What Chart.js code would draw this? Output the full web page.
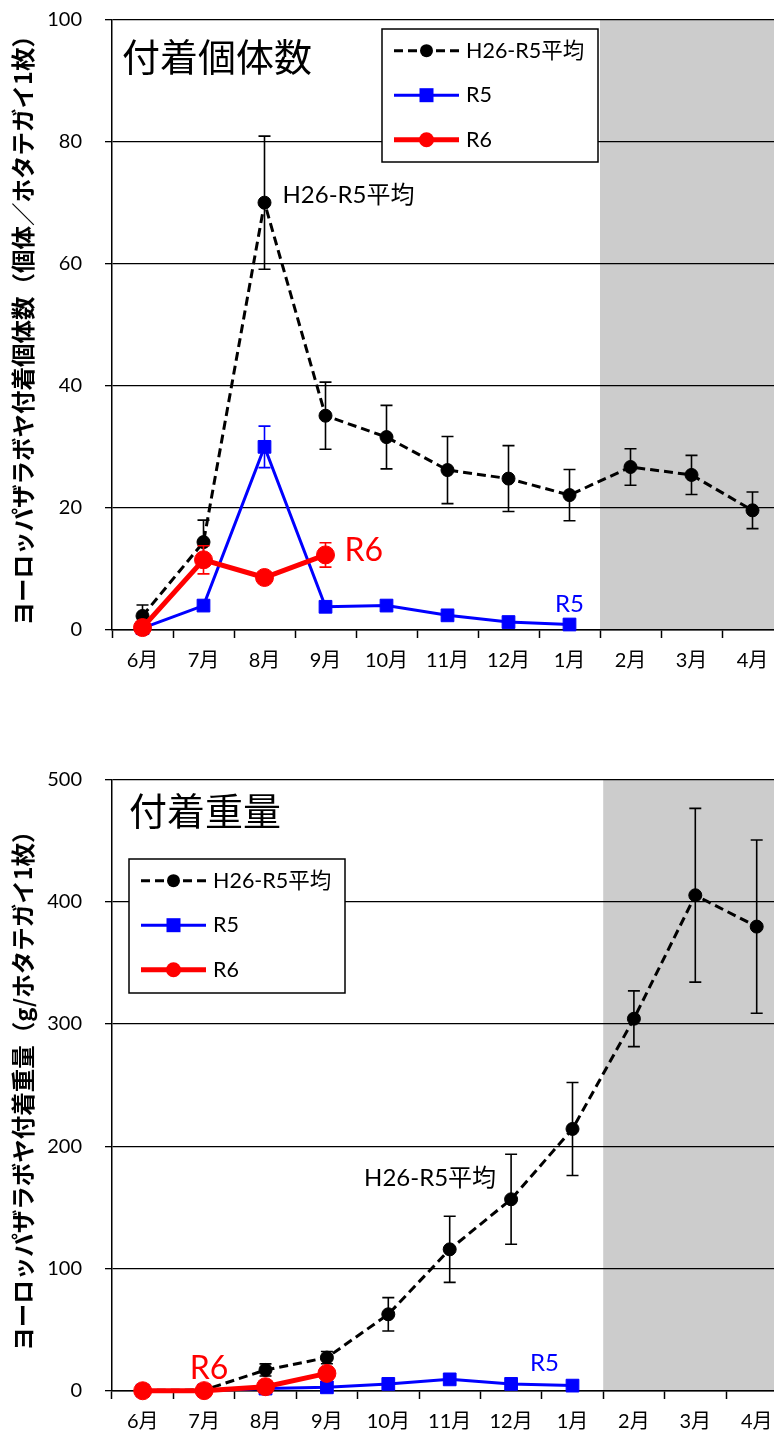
<!DOCTYPE html>
<html lang="ja">
<head>
<meta charset="utf-8">
<title>ヨーロッパザラボヤ付着状況</title>
<script src="https://cdn.jsdelivr.net/npm/chart.js@4.4.1/dist/chart.umd.min.js"></script>
<style>
  html, body { margin: 0; padding: 0; background: #fff; overflow: hidden; }
  #wrap { position: relative; width: 774px; height: 1436px; overflow: hidden; }
  #wrap canvas { position: absolute; left: 0; }
  #countChart { top: 0; }
  #weightChart { top: 760px; }
</style>
</head>
<body>
<div id="wrap">
  <canvas id="countChart" width="800" height="700"></canvas>
  <canvas id="weightChart" width="800" height="676"></canvas>
</div>
<script>
const months = ['6月', '7月', '8月', '9月', '10月', '11月', '12月', '1月', '2月', '3月', '4月'];
const shadeFrom = '2月';

// 付着個体数（個体／ホタテガイ1枚）
const countAvg    = [2.3, 14.4, 70.0, 35.1, 31.6, 26.2, 24.8, 22.1, 26.7, 25.4, 19.6];
const countAvgErr = [1.8, 3.6, 10.9, 5.5, 5.2, 5.5, 5.4, 4.2, 3.0, 3.2, 3.0];
const countR5     = [0.3, 4.0, 30.0, 3.8, 4.0, 2.4, 1.3, 0.9, null, null, null];
const countR5Err  = [null, null, 3.4, null, null, null, null, null, null, null, null];
const countR6     = [0.4, 11.5, 8.6, 12.3, null, null, null, null, null, null, null];
const countR6Err  = [null, 2.3, null, 2.0, null, null, null, null, null, null, null];

// 付着重量（g/ホタテガイ1枚）
const weightAvg    = [0.5, 0.8, 17.2, 27.3, 62.7, 115.8, 156.7, 214.2, 304.3, 405.2, 379.6];
const weightAvgErr = [null, null, 5.0, 5.0, 13.6, 27.0, 36.8, 38.0, 22.8, 71.0, 70.8];
const weightR5     = [0.3, 0.5, 2.0, 3.0, 5.8, 9.5, 5.8, 4.4, null, null, null];
const weightR5Err  = [null, null, null, null, null, null, null, null, null, null, null];
const weightR6     = [0.2, 0.3, 3.5, 14.4, null, null, null, null, null, null, null];
const weightR6Err  = [null, null, null, null, null, null, null, null, null, null, null];

const LATIN = "Lato, 'Noto Sans CJK JP', sans-serif";
const JP = "'Noto Sans CJK JP', sans-serif";

// gray band for 2月-4月, under the grid lines
const shadePlugin = {
  id: 'shade',
  beforeDraw(chart, args, o) {
    const { ctx, chartArea: a, scales: { x } } = chart;
    const i = chart.data.labels.indexOf(o.from);
    const left = (x.getPixelForValue(i - 1) + x.getPixelForValue(i)) / 2;
    ctx.save();
    ctx.fillStyle = o.color;
    ctx.fillRect(left, a.top, a.right + 20 - left, a.bottom - a.top);
    ctx.restore();
  }
};

// symmetric error bars, drawn just before each series
const errorBarPlugin = {
  id: 'errorBars',
  beforeDatasetDraw(chart, args) {
    const ds = chart.data.datasets[args.index];
    if (!ds.errorBars) return;
    const { ctx } = chart;
    const y = chart.scales.y;
    ctx.save();
    ctx.strokeStyle = ds.errorColor;
    ctx.lineWidth = 1.6;
    args.meta.data.forEach((pt, i) => {
      const v = ds.data[i], e = ds.errorBars[i];
      if (v == null || e == null) return;
      const top = y.getPixelForValue(v + e);
      const bot = y.getPixelForValue(v - e);
      ctx.beginPath();
      ctx.moveTo(pt.x, top); ctx.lineTo(pt.x, bot);
      ctx.moveTo(pt.x - 6, top); ctx.lineTo(pt.x + 6, top);
      ctx.moveTo(pt.x - 6, bot); ctx.lineTo(pt.x + 6, bot);
      ctx.stroke();
    });
    ctx.restore();
  }
};

function marker(ctx, style, x, y, r, color) {
  ctx.fillStyle = color;
  ctx.beginPath();
  if (style === 'rect') {
    ctx.rect(x - r, y - r, 2 * r, 2 * r);
  } else {
    ctx.arc(x, y, r, 0, Math.PI * 2);
  }
  ctx.fill();
}

// boxed legend inside the plot
const legendBoxPlugin = {
  id: 'legendBox',
  afterDatasetsDraw(chart, args, o) {
    const { ctx, chartArea: a } = chart;
    const x = a.left + o.dx, y = a.top + o.dy;
    ctx.save();
    ctx.fillStyle = '#fff';
    ctx.fillRect(x, y, o.width, o.height);
    ctx.strokeStyle = '#000';
    ctx.lineWidth = 1.5;
    ctx.strokeRect(x, y, o.width, o.height);
    chart.data.datasets.forEach((ds, i) => {
      const cy = y + o.firstRow + i * o.rowGap;
      ctx.beginPath();
      ctx.setLineDash(ds.borderDash || []);
      ctx.lineWidth = ds.borderWidth;
      ctx.strokeStyle = ds.borderColor;
      ctx.moveTo(x + o.lineFrom, cy);
      ctx.lineTo(x + o.lineTo, cy);
      ctx.stroke();
      ctx.setLineDash([]);
      marker(ctx, ds.pointStyle, x + (o.lineFrom + o.lineTo) / 2, cy, ds.legendRadius, ds.borderColor);
      ctx.fillStyle = '#000';
      ctx.font = o.font;
      ctx.textAlign = 'left';
      ctx.textBaseline = 'middle';
      ctx.fillText(ds.label, x + o.textX, cy);
    });
    ctx.restore();
  }
};

// panel title and series notes
const notePlugin = {
  id: 'notes',
  afterDatasetsDraw(chart, args, o) {
    const { ctx, chartArea: a } = chart;
    ctx.save();
    ctx.textBaseline = 'middle';
    ctx.textAlign = 'left';
    ctx.fillStyle = '#000';
    ctx.font = o.title.font;
    ctx.fillText(o.title.text, a.left + o.title.dx, a.top + o.title.dy);
    o.items.forEach(n => {
      const di = chart.data.datasets.findIndex(d => d.label === n.series);
      const pt = chart.getDatasetMeta(di).data[n.index];
      ctx.font = n.font;
      ctx.fillStyle = n.color;
      ctx.textAlign = n.align;
      ctx.fillText(n.text, pt.x + n.dx, pt.y + n.dy);
    });
    ctx.restore();
  }
};

function seriesSets(avg, avgErr, r5, r5Err, r6, r6Err) {
  return [
    {
      label: 'H26-R5平均', data: avg, errorBars: avgErr, errorColor: '#000',
      borderColor: '#000', backgroundColor: '#000', borderWidth: 3, borderDash: [9, 5],
      pointStyle: 'circle', pointRadius: 6.5, pointBorderWidth: 1, legendRadius: 6.5,
      order: 3, clip: false
    },
    {
      label: 'R5', data: r5, errorBars: r5Err, errorColor: '#0000ff',
      borderColor: '#0000ff', backgroundColor: '#0000ff', borderWidth: 3,
      pointStyle: 'rect', pointRadius: 9, pointBorderWidth: 1, legendRadius: 7,
      order: 2, clip: false
    },
    {
      label: 'R6', data: r6, errorBars: r6Err, errorColor: '#ff0000',
      borderColor: '#ff0000', backgroundColor: '#ff0000', borderWidth: 5,
      pointStyle: 'circle', pointRadius: 9, pointBorderWidth: 1, legendRadius: 7.5,
      order: 1, clip: false
    }
  ];
}

function makeChart(id, cfg) {
  return new Chart(document.getElementById(id), {
    type: 'line',
    data: { labels: months, datasets: cfg.datasets },
    options: {
      responsive: false,
      animation: false,
      layout: { padding: cfg.padding },
      elements: { line: { tension: 0 } },
      plugins: {
        legend: { display: false },
        tooltip: { enabled: false },
        shade: { from: shadeFrom, color: '#cccccc' },
        legendBox: cfg.legendBox,
        notes: cfg.notes
      },
      scales: {
        x: {
          offset: true,
          grid: { offset: true, drawOnChartArea: false, tickLength: 8, tickColor: '#000', tickWidth: 1.5 },
          border: { color: '#000', width: 1.5 },
          ticks: { padding: 11, color: '#000', font: { size: 20, family: LATIN }, maxRotation: 0, autoSkip: false },
          afterFit: s => { s.height = cfg.xHeight; s.paddingLeft = 0; s.paddingRight = 0; }
        },
        y: {
          min: 0,
          max: cfg.yMax,
          ticks: { stepSize: cfg.yStep, padding: 23, color: '#000', font: { size: 20, family: LATIN } },
          grid: { color: '#000', lineWidth: 1.3, tickLength: 7, tickColor: '#000', tickWidth: 1.3 },
          border: { color: '#000', width: 1.5 },
          title: {
            display: true, text: cfg.yTitle, color: '#000',
            font: { size: 23.5, weight: 'bold', family: JP }, padding: { top: 9, bottom: 0 }
          },
          afterFit: s => { s.width = 112; s.paddingTop = 0; s.paddingBottom = 0; }
        }
      }
    },
    plugins: [shadePlugin, errorBarPlugin, legendBoxPlugin, notePlugin]
  });
}

const legendCommon = {
  width: 216, height: 133, firstRow: 21.7, rowGap: 44.5,
  lineFrom: 12, lineTo: 77, textX: 84, font: '21.5px ' + LATIN
};

makeChart('countChart', {
  datasets: seriesSets(countAvg, countAvgErr, countR5, countR5Err, countR6, countR6Err),
  padding: { top: 19.5, right: 17, bottom: 0, left: 0 },
  xHeight: 70,
  yMax: 100,
  yStep: 20,
  yTitle: 'ヨーロッパザラボヤ付着個体数（個体／ホタテガイ1枚）',
  legendBox: Object.assign({ dx: 270, dy: 9.5 }, legendCommon),
  notes: {
    title: { text: '付着個体数', dx: 10, dy: 37.5, font: '38px ' + JP },
    items: [
      { text: 'H26-R5平均', series: 'H26-R5平均', index: 2, dx: 18, dy: -7, align: 'left', color: '#000', font: '24px ' + LATIN },
      { text: 'R6', series: 'R6', index: 3, dx: 19, dy: -4, align: 'left', color: '#ff0000', font: '32px ' + LATIN },
      { text: 'R5', series: 'R5', index: 7, dx: 0, dy: -20, align: 'center', color: '#0000ff', font: '24px ' + LATIN }
    ]
  }
});

makeChart('weightChart', {
  datasets: seriesSets(weightAvg, weightAvgErr, weightR5, weightR5Err, weightR6, weightR6Err),
  padding: { top: 19.3, right: 12.6, bottom: 0, left: 0 },
  xHeight: 45,
  yMax: 500,
  yStep: 100,
  yTitle: 'ヨーロッパザラボヤ付着重量（g/ホタテガイ1枚）',
  legendBox: Object.assign({ dx: 17, dy: 79.7 }, legendCommon, { height: 134 }),
  notes: {
    title: { text: '付着重量', dx: 17, dy: 31.4, font: '38px ' + JP },
    items: [
      { text: 'H26-R5平均', series: 'H26-R5平均', index: 6, dx: -15, dy: -21, align: 'right', color: '#000', font: '24px ' + LATIN },
      { text: 'R6', series: 'R6', index: 1, dx: 5, dy: -22, align: 'center', color: '#ff0000', font: '32px ' + LATIN },
      { text: 'R5', series: 'R5', index: 7, dx: -28, dy: -22, align: 'center', color: '#0000ff', font: '24px ' + LATIN }
    ]
  }
});
</script>
</body>
</html>
